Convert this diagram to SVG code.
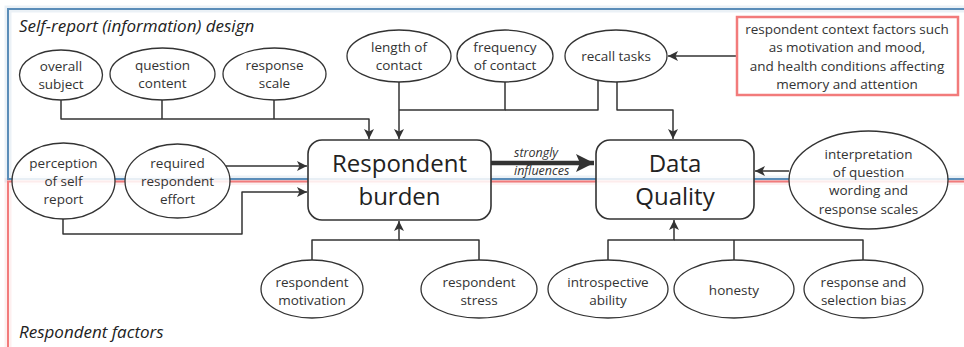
<svg xmlns="http://www.w3.org/2000/svg" width="964" height="347" viewBox="0 0 964 347">
  <defs>
    <marker id="arrow" markerUnits="userSpaceOnUse" markerWidth="11" markerHeight="11" refX="10" refY="5.5" orient="auto">
      <path d="M0,0.5 L10,5.5 L0,10.5 L2.5,5.5 Z" fill="#333"/>
    </marker>
    <marker id="arrow-big" markerUnits="userSpaceOnUse" markerWidth="20" markerHeight="20" refX="18" refY="10" orient="auto">
      <path d="M0,1 L18,10 L0,19 L4,10 Z" fill="#333"/>
    </marker>
    <style>
      .frame-blue { fill: none; stroke: #5b8db8; stroke-width: 2; }
      .frame-red { fill: none; stroke: #f27b7b; stroke-width: 2; }
      .halo { fill: none; stroke-width: 7; stroke-opacity: 0.12; }
      .node { fill: #fff; fill-opacity: 0.86; stroke: #333; stroke-width: 1.3; }
      .box { fill: #fff; fill-opacity: 0.86; stroke: #333; stroke-width: 1.6; }
      .ctx { fill: #fff; stroke: #f27b7b; stroke-width: 2.5; }
      .t { font-family: "Open Sans", "Liberation Sans", sans-serif; font-size: 13.5px; fill: #333; text-anchor: middle; }
      .big { font-family: "Open Sans", "Liberation Sans", sans-serif; font-size: 24px; fill: #222; text-anchor: middle; }
      .region { font-family: "Open Sans", "Liberation Sans", sans-serif; font-size: 17px; font-style: italic; fill: #222; }
      .lbl { font-family: "Open Sans", "Liberation Sans", sans-serif; font-size: 12.5px; font-style: italic; fill: #333; }
      .conn { fill: none; stroke: #333; stroke-width: 1.5; stroke-linejoin: round; }
      .thick { fill: none; stroke: #333; stroke-width: 4.5; }
    </style>
  </defs>

  <!-- region frames -->
  <g id="regions">
    <rect class="halo" stroke="#5b8db8" x="8" y="9" width="980" height="170"/>
    <rect class="halo" stroke="#f27b7b" x="8" y="181.5" width="980" height="200"/>
    <rect class="frame-blue" x="8" y="9" width="980" height="170"/>
    <rect class="frame-red" x="8" y="181.5" width="980" height="200"/>
    <text class="region" x="19" y="32">Self-report (information) design</text>
    <text class="region" x="19" y="338">Respondent factors</text>
  </g>

  <!-- connectors -->
  <g id="connectors">
    <path class="conn" d="M61 100 V119 H369 V139" marker-end="url(#arrow)"/>
    <path class="conn" d="M162 100 V119"/>
    <path class="conn" d="M274 100 V119"/>
    <path class="conn" d="M399 82 V139" marker-end="url(#arrow)"/>
    <path class="conn" d="M505 82 V110 H399"/>
    <path class="conn" d="M598 80 V110 H505"/>
    <path class="conn" d="M617 82 V110 H673 V139" marker-end="url(#arrow)"/>
    <path class="conn" d="M737 56 H668" marker-end="url(#arrow)"/>
    <path class="conn" d="M226 166 H307" marker-end="url(#arrow)"/>
    <path class="conn" d="M63 219 V234 H242 V192 H307" marker-end="url(#arrow)"/>
    <path class="thick" d="M491 163 H594" marker-end="url(#arrow-big)"/>
    <path class="conn" d="M789 171 H755" marker-end="url(#arrow)"/>
    <path class="conn" d="M312 260 V240 H399 V221" marker-end="url(#arrow)"/>
    <path class="conn" d="M479 260 V240 H399"/>
    <path class="conn" d="M608 260 V240 H674 V220" marker-end="url(#arrow)"/>
    <path class="conn" d="M734 260 V240"/>
    <path class="conn" d="M863 260 V240 H674"/>
    <text class="lbl" x="514" y="157">strongly</text>
    <text class="lbl" x="514" y="175">influences</text>
  </g>

  <!-- design factors -->
  <g id="overall-subject">
    <ellipse class="node" cx="61" cy="75" rx="41.5" ry="25"/>
    <text class="t" x="61" y="71">overall</text>
    <text class="t" x="61" y="89">subject</text>
  </g>
  <g id="question-content">
    <ellipse class="node" cx="162.5" cy="74" rx="52.5" ry="26"/>
    <text class="t" x="162.5" y="70">question</text>
    <text class="t" x="162.5" y="88">content</text>
  </g>
  <g id="response-scale">
    <ellipse class="node" cx="274.5" cy="74" rx="51.5" ry="26"/>
    <text class="t" x="274.5" y="70">response</text>
    <text class="t" x="274.5" y="88">scale</text>
  </g>
  <g id="length-of-contact">
    <ellipse class="node" cx="399" cy="56" rx="52" ry="26"/>
    <text class="t" x="399" y="52">length of</text>
    <text class="t" x="399" y="70">contact</text>
  </g>
  <g id="frequency-of-contact">
    <ellipse class="node" cx="505" cy="56" rx="48" ry="26"/>
    <text class="t" x="505" y="52">frequency</text>
    <text class="t" x="505" y="70">of contact</text>
  </g>
  <g id="recall-tasks">
    <ellipse class="node" cx="616" cy="56" rx="51" ry="26"/>
    <text class="t" x="616" y="61">recall tasks</text>
  </g>
  <g id="context-factors">
    <rect class="ctx" x="737" y="17" width="221" height="78"/>
    <text class="t" x="847" y="34">respondent context factors such</text>
    <text class="t" x="847" y="52">as motivation and mood,</text>
    <text class="t" x="847" y="71">and health conditions affecting</text>
    <text class="t" x="847" y="89">memory and attention</text>
  </g>
  <g id="perception-of-self-report">
    <ellipse class="node" cx="63.5" cy="181" rx="51.5" ry="38"/>
    <text class="t" x="63.5" y="168">perception</text>
    <text class="t" x="63.5" y="186">of self</text>
    <text class="t" x="63.5" y="204">report</text>
  </g>
  <g id="required-respondent-effort">
    <ellipse class="node" cx="177.5" cy="181" rx="52.5" ry="37"/>
    <text class="t" x="177.5" y="168">required</text>
    <text class="t" x="177.5" y="186">respondent</text>
    <text class="t" x="177.5" y="204">effort</text>
  </g>

  <!-- central nodes -->
  <g id="respondent-burden">
    <rect class="box" x="308" y="140" width="183" height="80" rx="14"/>
    <text class="big" x="399.5" y="172">Respondent</text>
    <text class="big" x="399.5" y="205">burden</text>
  </g>
  <g id="data-quality">
    <rect class="box" x="596" y="140" width="158" height="79" rx="14"/>
    <text class="big" x="675" y="172">Data</text>
    <text class="big" x="675" y="205">Quality</text>
  </g>
  <g id="interpretation">
    <ellipse class="node" cx="868.5" cy="180" rx="79.5" ry="49"/>
    <text class="t" x="868.5" y="159">interpretation</text>
    <text class="t" x="868.5" y="177">of question</text>
    <text class="t" x="868.5" y="195">wording and</text>
    <text class="t" x="868.5" y="214">response scales</text>
  </g>

  <!-- respondent factors -->
  <g id="respondent-motivation">
    <ellipse class="node" cx="312" cy="289" rx="51" ry="29"/>
    <text class="t" x="312" y="287">respondent</text>
    <text class="t" x="312" y="305">motivation</text>
  </g>
  <g id="respondent-stress">
    <ellipse class="node" cx="479" cy="289" rx="58" ry="29"/>
    <text class="t" x="479" y="287">respondent</text>
    <text class="t" x="479" y="305">stress</text>
  </g>
  <g id="introspective-ability">
    <ellipse class="node" cx="608" cy="289" rx="60" ry="29"/>
    <text class="t" x="608" y="287">introspective</text>
    <text class="t" x="608" y="305">ability</text>
  </g>
  <g id="honesty">
    <ellipse class="node" cx="734" cy="289" rx="60" ry="29"/>
    <text class="t" x="734" y="295">honesty</text>
  </g>
  <g id="response-selection-bias">
    <ellipse class="node" cx="863.5" cy="289" rx="59.5" ry="29"/>
    <text class="t" x="863.5" y="287">response and</text>
    <text class="t" x="863.5" y="305">selection bias</text>
  </g>
</svg>
